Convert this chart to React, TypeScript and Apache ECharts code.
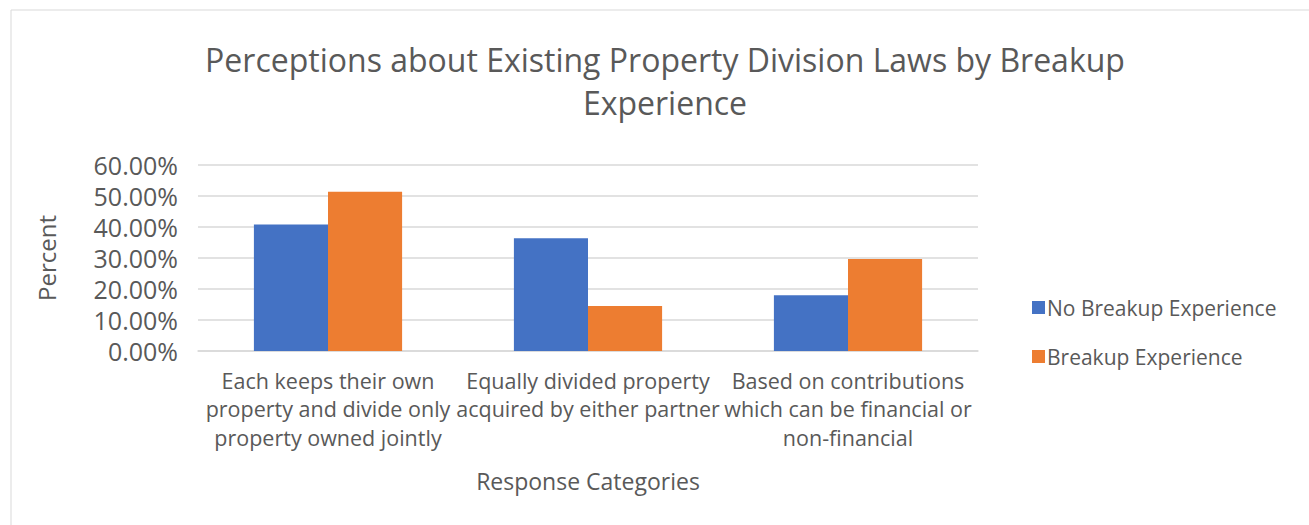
import React, { useEffect, useRef } from "react";
import * as echarts from "echarts";

const categories = [
  "Each keeps their own\nproperty and divide only\nproperty owned jointly",
  "Equally divided property\nacquired by either partner",
  "Based on contributions\nwhich can be financial or\nnon-financial",
];
const noBreakup = [40.8, 36.4, 18.0];
const breakup = [51.4, 14.5, 29.7];
const seriesNames = ["No Breakup Experience", "Breakup Experience"];

const FONT = "'Open Sans', Lato, sans-serif";
const TXT = "#595959";

export default function App() {
  const ref = useRef<HTMLDivElement>(null);
  useEffect(() => {
    document.body.style.margin = "0";
    const chart = echarts.init(ref.current!, null, { renderer: "svg" });
    chart.setOption({
      animation: false,
      backgroundColor: "#ffffff",
      textStyle: { fontFamily: FONT },
      title: {
        text: "Perceptions about Existing Property Division Laws by Breakup\nExperience",
        left: 660,
        textAlign: "center",
        top: 33,
        textStyle: { fontSize: 32, fontWeight: "normal", color: TXT, lineHeight: 43, fontFamily: FONT },
      },
      graphic: [
        {
          type: "rect",
          shape: { x: 11, y: 10, width: 1320, height: 540 },
          style: { fill: "none", stroke: "#d9d9d9", lineWidth: 1 },
          silent: true,
        },
      ],
      legend: {
        orient: "vertical",
        left: 1027,
        top: 292,
        itemWidth: 13,
        itemHeight: 13,
        itemGap: 28,
        icon: "rect",
        textStyle: { fontSize: 21, color: TXT, fontFamily: FONT, padding: [0, 0, 0, -3] },
        data: seriesNames,
      },
      grid: { left: 198, right: 331, top: 165, bottom: 174 },
      xAxis: {
        type: "category",
        data: categories,
        name: "Response Categories",
        nameLocation: "middle",
        nameGap: 118,
        nameTextStyle: { fontSize: 23, color: TXT, fontFamily: FONT },
        axisLine: { lineStyle: { color: "#d9d9d9", width: 1.5 } },
        axisTick: { show: false },
        axisLabel: { fontSize: 21.5, color: TXT, lineHeight: 28.5, interval: 0, margin: 15, fontFamily: FONT },
      },
      yAxis: {
        type: "value",
        min: 0,
        max: 60,
        interval: 10,
        name: "Percent",
        nameLocation: "middle",
        nameGap: 140,
        nameTextStyle: { fontSize: 24, color: TXT, fontFamily: FONT },
        axisLabel: {
          fontSize: 25,
          color: TXT,
          margin: 20,
          fontFamily: FONT,
          formatter: (v: number) => v.toFixed(2) + "%",
        },
        splitLine: { lineStyle: { color: "#d9d9d9", width: 1.5 } },
      },
      series: [
        {
          name: seriesNames[0],
          type: "bar",
          data: noBreakup,
          itemStyle: { color: "#4472c4" },
          barGap: "0%",
          barCategoryGap: "43%",
        },
        {
          name: seriesNames[1],
          type: "bar",
          data: breakup,
          itemStyle: { color: "#ed7d31" },
          barGap: "0%",
          barCategoryGap: "43%",
        },
      ],
    });
    return () => chart.dispose();
  }, []);
  return <div ref={ref} style={{ width: 1309, height: 525 }} />;
}
